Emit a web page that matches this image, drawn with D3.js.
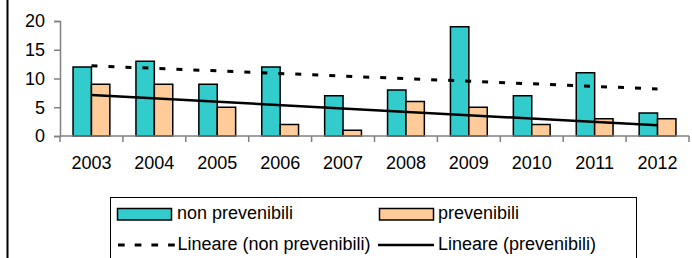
<!DOCTYPE html>
<html>
<head>
<meta charset="utf-8">
<script src="https://cdn.jsdelivr.net/npm/d3@7"></script>
<style>
  body { margin: 0; background: #fff; }
  text { font-family: "Liberation Sans", Arial, sans-serif; fill: #000; }
</style>
</head>
<body>
<div id="chart"></div>
<script>
// dati
var anni = ['2003', '2004', '2005', '2006', '2007', '2008', '2009', '2010', '2011', '2012'];
var nonPrevenibili = [12, 13, 9, 12, 7, 8, 19, 7, 11, 4];
var prevenibili = [9, 9, 5, 2, 1, 6, 5, 2, 3, 3];
var yTicks = [0, 5, 10, 15, 20];
var serie = ['non prevenibili', 'prevenibili'];
var colori = ['#33CCCC', '#FFCC99'];

var W = 692, H = 258;
var plotL = 60, plotR = 689, plotT = 21, plotB = 136;
var fontSize = 18;

var svg = d3.select('#chart').append('svg')
    .attr('width', W).attr('height', H);

// bordo sinistro del riquadro
svg.append('line')
    .attr('x1', 7.5).attr('y1', 0).attr('x2', 7.5).attr('y2', H)
    .style('stroke', '#000').style('stroke-width', 2);

var x0 = d3.scaleBand().domain(anni).range([plotL, plotR]);
var gap = x0.bandwidth() * 0.415;
var x1 = d3.scaleBand().domain(serie).range([gap / 2, x0.bandwidth() - gap / 2]);
var y = d3.scaleLinear().domain([0, 20]).range([plotB, plotT]);

// asse Y
var yAxis = svg.append('g')
    .attr('transform', 'translate(' + plotL + ',0)')
    .call(d3.axisLeft(y).tickValues(yTicks).tickSize(6).tickPadding(9));
yAxis.select('.domain').attr('stroke', '#808080').attr('stroke-width', 1.5);
yAxis.selectAll('.tick line').attr('stroke', '#808080').attr('stroke-width', 1.5);
yAxis.selectAll('text').style('font-size', fontSize + 'px')
    .style('font-family', '"Liberation Sans", Arial, sans-serif');

// barre
var dati = anni.map(function (a, i) {
    return { anno: a, valori: [nonPrevenibili[i], prevenibili[i]] };
});
var gruppi = svg.selectAll('g.anno').data(dati).enter().append('g')
    .attr('class', 'anno')
    .attr('transform', function (d) { return 'translate(' + x0(d.anno) + ',0)'; });
gruppi.selectAll('rect').data(function (d) {
    return d.valori.map(function (v, j) { return { serie: serie[j], v: v, c: colori[j] }; });
}).enter().append('rect')
    .attr('x', function (d) { return x1(d.serie); })
    .attr('y', function (d) { return y(d.v); })
    .attr('width', x1.bandwidth())
    .attr('height', function (d) { return y(0) - y(d.v); })
    .style('fill', function (d) { return d.c; })
    .style('stroke', '#000').style('stroke-width', 1.5);

// asse X
svg.append('line')
    .attr('x1', plotL).attr('y1', plotB).attr('x2', plotR).attr('y2', plotB)
    .style('stroke', '#808080').style('stroke-width', 1.5);
for (var i = 0; i <= anni.length; i++) {
    var tx = plotL + i * x0.step();
    svg.append('line')
        .attr('x1', tx).attr('y1', plotB).attr('x2', tx).attr('y2', plotB + 6)
        .style('stroke', '#808080').style('stroke-width', 1.5);
}
svg.selectAll('text.anno').data(anni).enter().append('text')
    .attr('class', 'anno')
    .attr('x', function (d) { return x0(d) + x0.bandwidth() / 2; })
    .attr('y', 169)
    .attr('text-anchor', 'middle')
    .style('font-size', fontSize + 'px')
    .text(function (d) { return d; });

// linee di tendenza (regressione lineare)
function tendenza(vals) {
    var n = vals.length, mx = (n + 1) / 2, my = d3.mean(vals), sxy = 0, sxx = 0;
    vals.forEach(function (v, i) {
        sxy += (i + 1 - mx) * (v - my);
        sxx += (i + 1 - mx) * (i + 1 - mx);
    });
    var b = sxy / sxx, a = my - b * mx;
    return [{ anno: anni[0], v: a + b }, { anno: anni[n - 1], v: a + b * n }];
}
var linea = d3.line()
    .x(function (d) { return x0(d.anno) + x0.bandwidth() / 2; })
    .y(function (d) { return y(d.v); });

svg.append('path').datum(tendenza(nonPrevenibili))
    .attr('d', linea)
    .style('fill', 'none').style('stroke', '#000').style('stroke-width', 3)
    .style('stroke-dasharray', '6,11');
svg.append('path').datum(tendenza(prevenibili))
    .attr('d', linea)
    .style('fill', 'none').style('stroke', '#000').style('stroke-width', 2.5);

// legenda
svg.append('rect')
    .attr('x', 110.5).attr('y', 197.5).attr('width', 526).attr('height', 70)
    .style('fill', '#fff').style('stroke', '#000').style('stroke-width', 1);

svg.append('rect')
    .attr('x', 117.5).attr('y', 208.5).attr('width', 54).attr('height', 11.5)
    .style('fill', colori[0]).style('stroke', '#000').style('stroke-width', 1.5);
svg.append('text').attr('x', 177).attr('y', 219)
    .style('font-size', fontSize + 'px').text(serie[0]);

svg.append('rect')
    .attr('x', 379.5).attr('y', 208.5).attr('width', 54).attr('height', 11.5)
    .style('fill', colori[1]).style('stroke', '#000').style('stroke-width', 1.5);
svg.append('text').attr('x', 438).attr('y', 219)
    .style('font-size', fontSize + 'px').text(serie[1]);

svg.append('line')
    .attr('x1', 118).attr('y1', 245).attr('x2', 176).attr('y2', 245)
    .style('stroke', '#000').style('stroke-width', 3)
    .style('stroke-dasharray', '6.7,10');
svg.append('text').attr('x', 177.5).attr('y', 249.5)
    .style('font-size', fontSize + 'px').text('Lineare (non prevenibili)');

svg.append('line')
    .attr('x1', 378).attr('y1', 245).attr('x2', 434).attr('y2', 245)
    .style('stroke', '#000').style('stroke-width', 2.5);
svg.append('text').attr('x', 438).attr('y', 249.5)
    .style('font-size', fontSize + 'px').text('Lineare (prevenibili)');
</script>
</body>
</html>
